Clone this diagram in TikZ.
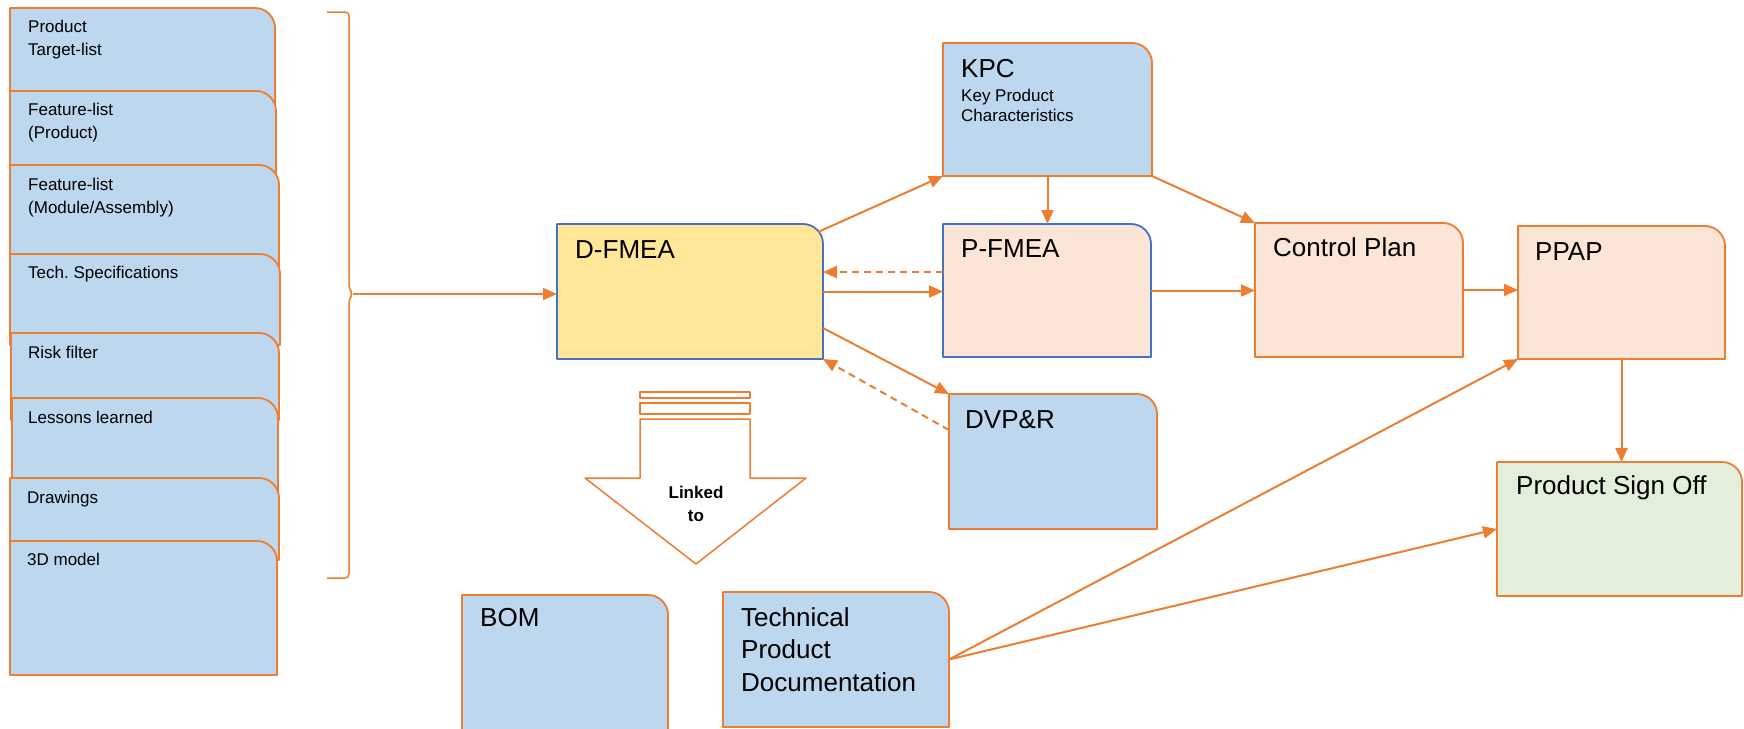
\documentclass[tikz,border=0pt]{standalone}
\usepackage{fontspec}
\setmainfont{Liberation Sans}
\usetikzlibrary{arrows.meta}
\frenchspacing
\definecolor{orn}{HTML}{ED7D31}
\definecolor{lblue}{HTML}{BDD7EE}
\definecolor{peach}{HTML}{FBE5D6}
\definecolor{yel}{HTML}{FFE699}
\definecolor{lgreen}{HTML}{E2EFDA}
\definecolor{bblue}{HTML}{4472C4}
\newcommand{\cardbox}[7]{%
  \node[box, minimum width=#4pt-#2pt, minimum height=#5pt-#3pt] (#1) at (#2,#3) {};
  \filldraw[fill=#6, draw=#7, line width=1.8pt, line join=round]
    (#1.south west) -- (#1.north west) -- ([xshift=-20pt]#1.north east)
    arc[start angle=90, end angle=0, radius=20pt] -- (#1.south east) -- cycle;
}
\begin{document}
\begin{tikzpicture}[x=1pt, y=-1pt,
  box/.style={inner sep=0pt, outer sep=0pt, anchor=north west},
  conn/.style={draw=orn, line width=2pt, -{Triangle[length=14pt,width=12pt]}},
  dconn/.style={conn, dash pattern=on 7pt off 5pt},
  lbl/.style={anchor=base west, inner sep=0pt, align=left, font=\fontsize{26}{32.5}\selectfont},
  slbl/.style={anchor=base west, inner sep=0pt, align=left, font=\fontsize{17}{23}\selectfont},
]
\useasboundingbox (0,0) rectangle (1744,728);

% left stack
\cardbox{s1}{10}{8}{275}{130}{lblue}{orn}
\cardbox{s2}{10}{91}{276}{200}{lblue}{orn}
\cardbox{s3}{10}{165}{279}{290}{lblue}{orn}
\cardbox{s4}{10}{254}{280}{345}{lblue}{orn}
\cardbox{s5}{11}{333}{279}{420}{lblue}{orn}
\cardbox{s6}{12}{398}{278}{510}{lblue}{orn}
\cardbox{s7}{10}{478}{279}{560}{lblue}{orn}
\cardbox{s8}{10}{541}{277}{675}{lblue}{orn}
% (anchor base = baseline of the last line)
\node[slbl] (t1) at (28,55) {Product\\Target-list};
\node[slbl] (t2) at (28,138) {Feature-list\\(Product)};
\node[slbl] (t3) at (28,213) {Feature-list\\(Module/Assembly)};
\node[slbl] (t4) at (28,278) {Tech. Specifications};
\node[slbl] (t5) at (28,358) {Risk filter};
\node[slbl] (t6) at (28,423) {Lessons learned};
\node[slbl] (t7) at (27,503) {Drawings};
\node[slbl] (t8) at (27,565) {3D model};

% brace
\coordinate (brtip) at (353,294);
\draw[orn, line width=1.5pt, rounded corners=4pt]
  (327,12) -- (349,12) -- (349,289) -- (brtip) -- (349,299) -- (349,578) -- (327,578);

% main boxes
\cardbox{dfmea}{557}{224}{823}{359}{yel}{bblue}
\cardbox{kpc}{943}{43}{1152}{176}{lblue}{orn}
\cardbox{pfmea}{943}{224}{1151}{357}{peach}{bblue}
\cardbox{cplan}{1255}{223}{1463}{357}{peach}{orn}
\cardbox{ppap}{1518}{226}{1725}{359}{peach}{orn}
\cardbox{psign}{1497}{462}{1742}{596}{lgreen}{orn}
\cardbox{dvpr}{949}{394}{1157}{529}{lblue}{orn}
\cardbox{tpd}{723}{592}{949}{727}{lblue}{orn}
\cardbox{bom}{462}{595}{668}{740}{lblue}{orn}

\node[lbl] (dfmea-t) at (575,258) {D-FMEA};
\node[lbl] (kpc-t) at (961,77) {KPC};
\node[anchor=base west, inner sep=0pt, align=left, font=\fontsize{17}{20}\selectfont] (kpc-s) at (961,121) {Key Product\\Characteristics};
\node[lbl] (pfmea-t) at (961,257) {P-FMEA};
\node[lbl] (cplan-t) at (1273,256) {Control Plan};
\node[lbl] (ppap-t) at (1535,260) {PPAP};
\node[lbl] (psign-t) at (1516,494) {Product Sign Off};
\node[lbl] (dvpr-t) at (965,428) {DVP\&R};
\node[lbl] (tpd-t) at (741,691) {Technical\\Product\\Documentation};
\node[lbl] (bom-t) at (480,626) {BOM};

% linked-to arrow
\draw[orn, line width=1.5pt, line join=round] (640,392) rectangle (750,398);
\draw[orn, line width=1.5pt, line join=round] (640,403) rectangle (750,414);
\draw[orn, line width=1.5pt, line join=round, fill=white]
  (640,419) -- (750,419) -- (750,478) -- (806,478) -- (696,564) -- (585,478) -- (640,478) -- cycle;
\node[anchor=base, inner sep=0pt, align=center, font=\fontsize{17}{23}\selectfont\bfseries] (link) at (696,521) {Linked\\to};

% connectors
\draw[conn] (brtip) -- (brtip -| dfmea.west);
\draw[conn] ([xshift=-5pt,yshift=-8pt]dfmea.north east) -- (kpc.south west);
\coordinate (d1) at ([yshift=19.5pt]dfmea.east);
\draw[dconn] (d1 -| pfmea.west) -- (d1);
\draw[conn] (dfmea.east) -- (dfmea.east -| pfmea.west);
\draw[conn] ([yshift=-36.5pt]dfmea.east) -- (dvpr.north west);
\draw[dconn] ([yshift=31.5pt]dvpr.west) -- (dfmea.south east);
\draw[conn] (kpc.south) -- (kpc.south |- pfmea.north);
\draw[conn] (kpc.south east) -- (cplan.north west);
\draw[conn] (pfmea.east) -- (pfmea.east -| cplan.west);
\draw[conn] (cplan.east) -- (cplan.east -| ppap.west);
\draw[conn] (ppap.south) -- (ppap.south |- psign.north);
\draw[conn] (tpd.east) -- (ppap.south west);
\draw[conn] (tpd.east) -- (psign.west);
\end{tikzpicture}
\end{document}
